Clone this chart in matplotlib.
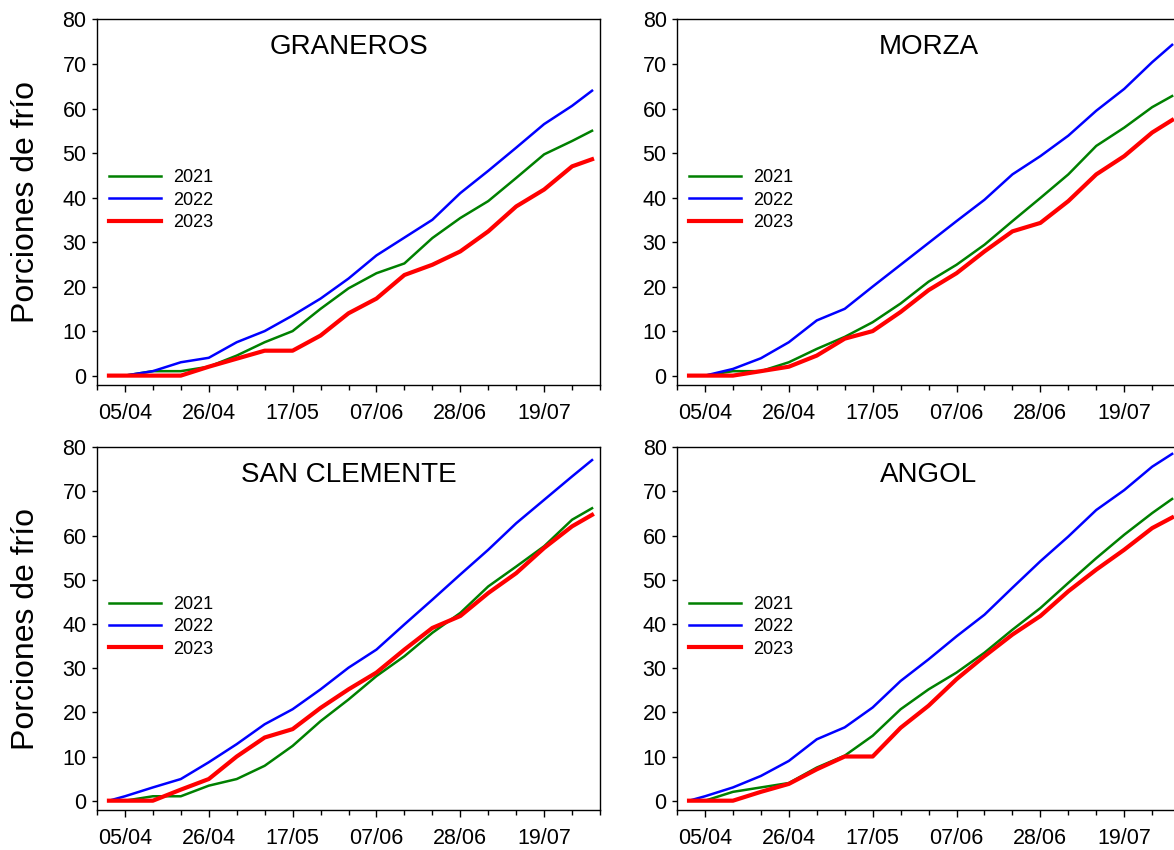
import matplotlib.pyplot as plt
import matplotlib.dates as mdates
import numpy as np
from datetime import datetime, timedelta

plt.rcParams['font.family'] = ['Liberation Sans', 'DejaVu Sans']

YEAR = 2023

# sampling dates (dd/mm)
dates = ['01/04', '05/04', '12/04', '19/04', '26/04', '03/05', '10/05', '17/05',
         '24/05', '31/05', '07/06', '14/06', '21/06', '28/06', '05/07', '12/07',
         '19/07', '26/07', '31/07']

tick_labels = ['05/04', '26/04', '17/05', '07/06', '28/06', '19/07']

years = ['2021', '2022', '2023']

graneros_2021 = [0, 0, 1, 1, 2, 4.5, 7.5, 10, 15, 19.6, 23, 25.2, 30.9, 35.4, 39.2, 44.4, 49.7, 52.7, 55]
graneros_2022 = [0, 0, 1, 3, 4, 7.5, 10, 13.5, 17.3, 21.8, 27, 31, 35, 41, 46, 51.2, 56.5, 60.6, 64]
graneros_2023 = [0, 0, 0, 0, 2, 3.8, 5.6, 5.6, 9, 14, 17.3, 22.6, 24.9, 27.9, 32.4, 38, 41.8, 47, 48.6]

morza_2021 = [0, 0, 1, 1, 3, 6, 8.7, 12, 16.2, 21.1, 24.9, 29.4, 34.7, 39.9, 45.2, 51.6, 55.7, 60.3, 62.8]
morza_2022 = [0, 0, 1.5, 3.9, 7.5, 12.4, 15, 20, 24.9, 29.8, 34.7, 39.5, 45.2, 49.3, 53.9, 59.5, 64.4, 70.4, 74.3]
morza_2023 = [0, 0, 0, 1, 2, 4.5, 8.3, 10, 14.3, 19.2, 23, 27.9, 32.4, 34.3, 39.2, 45.2, 49.3, 54.6, 57.4]

sanclemente_2021 = [0, 0, 1, 1, 3.4, 4.9, 7.9, 12.4, 18, 22.9, 28.2, 32.7, 38, 42.5, 48.5, 53, 57.6, 63.6, 66.2]
sanclemente_2022 = [0, 1, 3, 4.9, 8.7, 12.8, 17.3, 20.7, 25.2, 30.1, 34.2, 39.9, 45.5, 51.2, 56.8, 62.8, 68.1, 73.4, 77.1]
sanclemente_2023 = [0, 0, 0, 2.5, 4.9, 10, 14.3, 16.2, 21, 25.2, 29, 34.2, 39.1, 41.8, 47, 51.5, 57.2, 62.1, 64.7]

angol_2021 = [0, 0, 2, 3, 4, 7.5, 10.2, 14.7, 20.7, 25.2, 29, 33.5, 38.7, 43.6, 49.3, 54.9, 60.2, 65.1, 68.3]
angol_2022 = [0, 1, 3, 5.6, 9, 13.9, 16.6, 21.1, 27.1, 32, 37.2, 42.1, 48.2, 54.2, 59.8, 65.8, 70.3, 75.6, 78.5]
angol_2023 = [0, 0, 0, 2, 3.8, 7.1, 10, 10, 16.5, 21.5, 27.5, 32.7, 37.6, 41.8, 47.4, 52.3, 56.8, 61.7, 64.1]

stations = {
    'GRANEROS': [graneros_2021, graneros_2022, graneros_2023],
    'MORZA': [morza_2021, morza_2022, morza_2023],
    'SAN CLEMENTE': [sanclemente_2021, sanclemente_2022, sanclemente_2023],
    'ANGOL': [angol_2021, angol_2022, angol_2023],
}

colors = ['#008000', '#0000ff', '#ff0000']
widths = [1.8, 1.8, 3.0]


def to_date(s):
    return datetime.strptime(f'{s}/{YEAR}', '%d/%m/%Y')


x = [to_date(d) for d in dates]
major = [to_date(d) for d in tick_labels]
minor = [major[0] + timedelta(days=7 * i) for i in range(-1, 18)]
x_lo = mdates.date2num(to_date('01/04')) - 0.3
x_hi = mdates.date2num(to_date('31/07')) + 0.1

fig = plt.figure(figsize=(11.74, 8.5), dpi=100)

# [left, bottom, width, height] in figure fraction; right column runs past the edge
positions = [
    [0.0826, 0.5471, 0.4285, 0.4300],
    [0.5767, 0.5471, 0.4285, 0.4300],
    [0.0826, 0.0471, 0.4285, 0.4267],
    [0.5767, 0.0471, 0.4285, 0.4267],
]

for i, ((name, series), pos) in enumerate(zip(stations.items(), positions)):
    ax = fig.add_axes(pos)
    for yr, vals, c, lw in zip(years, series, colors, widths):
        ax.plot(x, vals, color=c, lw=lw, label=yr, solid_joinstyle='round')

    ax.set_xlim(x_lo, x_hi)
    ax.set_ylim(-2.1, 80)
    ax.set_yticks(np.arange(0, 81, 10))
    ax.set_xticks(major)
    ax.set_xticklabels(tick_labels)
    ax.set_xticks(minor, minor=True)
    ax.tick_params(axis='x', which='major', length=5, width=1, pad=8, labelsize=15.5)
    ax.tick_params(axis='x', which='minor', length=3.5, width=1)
    ax.tick_params(axis='y', length=3.5, width=1, pad=4, labelsize=15.5)
    for sp in ax.spines.values():
        sp.set_linewidth(1)

    ax.text(0.5, 0.96, name, transform=ax.transAxes, ha='center', va='top', fontsize=20)

    if i % 2 == 0:
        ax.set_ylabel('Porciones de frío', fontsize=23)
        ax.yaxis.set_label_coords(-0.112, 0.5)

    ax.legend(loc='upper left', bbox_to_anchor=(0.024, 0.59), frameon=False,
              fontsize=13, handlelength=2.9, handletextpad=0.65, labelspacing=0.3,
              borderpad=0, borderaxespad=0)

fig.savefig('out.png', dpi=100)
